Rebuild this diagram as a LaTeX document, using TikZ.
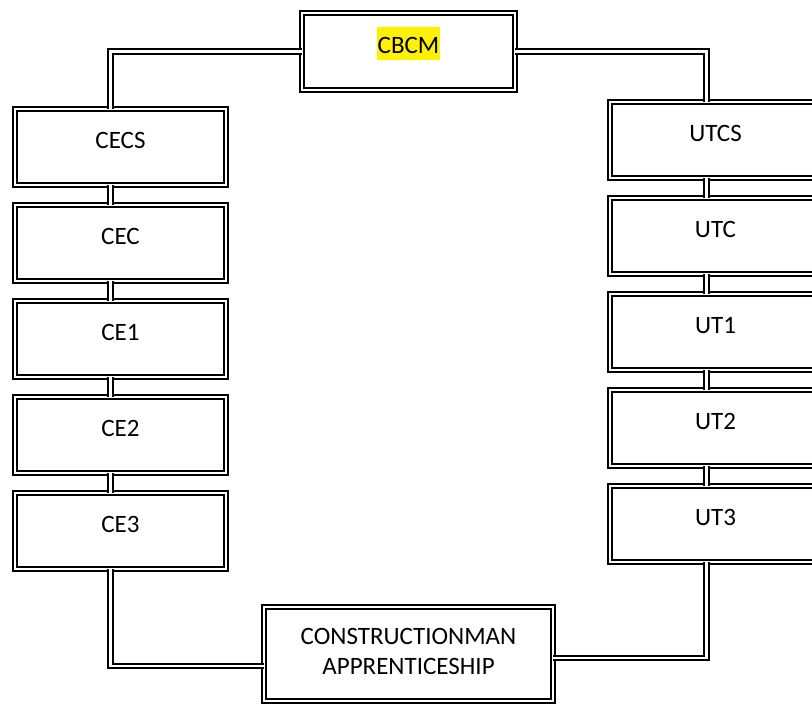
\documentclass[tikz,border=0pt]{standalone}
\usepackage{fontspec}
\setmainfont{Carlito}
\begin{document}
\begin{tikzpicture}[x=0.75pt,y=-0.75pt,
  dbl/.style={draw=black, line width=1.5pt, double=white, double distance=1.7pt},
  box/.style={dbl, fill=white, inner sep=0pt, outer sep=0pt,
    minimum width=158.25pt, minimum height=57pt,
    text height=29.25pt, text depth=27.75pt,
    font=\fontsize{18.75}{22.5}\selectfont},
  conn/.style={dbl}
]
\useasboundingbox (0,0) rectangle (812,704);
\clip (0,0) rectangle (812,704);
% nodes
\node[box, minimum width=159.75pt, minimum height=57.75pt, text height=30pt, text depth=27.75pt] (cbcm) at (408.5,51.5)
  {{\setlength\fboxsep{0pt}\colorbox{yellow}{\rule[-5.25pt]{0pt}{24.75pt}\kern0.75pt CBCM\kern0.75pt}}};
\node[box] (cecs) at (120.5,147) {CECS};
\node[box] (cec)  at (120.5,243) {CEC};
\node[box] (ce1)  at (120.5,339) {CE1};
\node[box] (ce2)  at (120.5,435) {CE2};
\node[box] (ce3)  at (120.5,531) {CE3};
\node[box] (utcs) at (715.5,140) {UTCS};
\node[box] (utc)  at (715.5,236) {UTC};
\node[box] (ut1)  at (715.5,332) {UT1};
\node[box] (ut2)  at (715.5,428) {UT2};
\node[box] (ut3)  at (715.5,524) {UT3};
\node[box, minimum width=216.75pt, minimum height=70.5pt, text height=27.75pt, text depth=42.75pt] (app) at (408.5,654)
  {\begin{tabular}[t]{@{}c@{}}CONSTRUCTIONMAN\\APPRENTICESHIP\end{tabular}};
% connectors
\begin{scope}[on background layer/.try]
\end{scope}
\draw[conn] (cbcm.west) -| ([xshift=-7.5pt]cecs.north);
\draw[conn] (cbcm.east) -| ([xshift=-6.75pt]utcs.north);
\foreach \a/\b in {cecs/cec, cec/ce1, ce1/ce2, ce2/ce3}
  \draw[conn] ([xshift=-7.5pt]\a.south) -- ([xshift=-7.5pt]\b.north);
\foreach \a/\b in {utcs/utc, utc/ut1, ut1/ut2, ut2/ut3}
  \draw[conn] ([xshift=-6.75pt]\a.south) -- ([xshift=-6.75pt]\b.north);
\draw[conn] ([xshift=-7.5pt]ce3.south) |- ([yshift=-9pt]app.west);
\draw[conn] ([xshift=-6.75pt]ut3.south) |- ([yshift=-3pt]app.east);
\end{tikzpicture}
\end{document}
